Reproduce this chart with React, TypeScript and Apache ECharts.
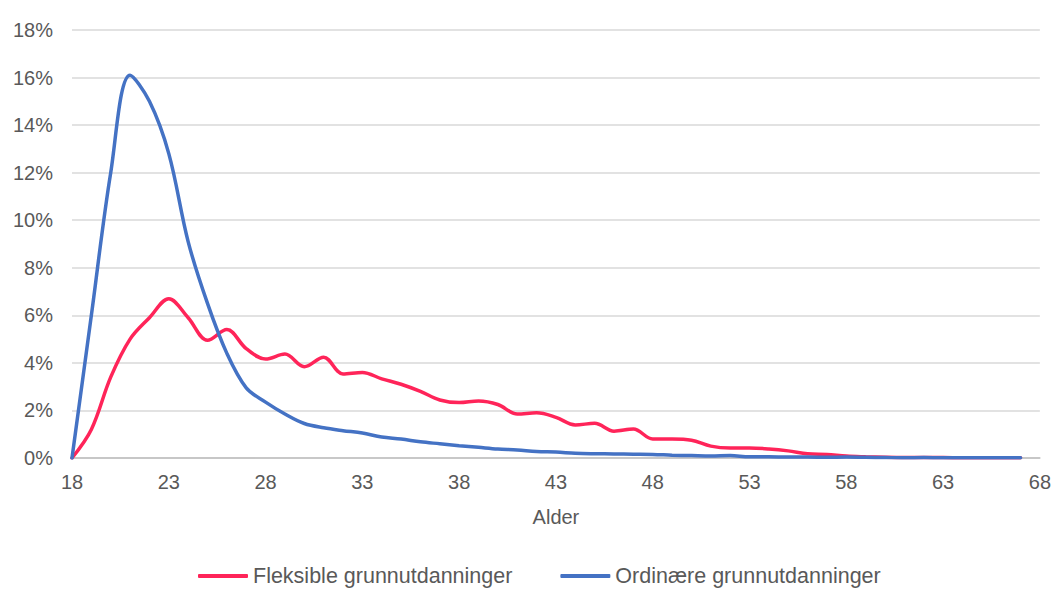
import React, { useEffect, useRef } from "react";
import * as echarts from "echarts";

const ages = [
  "18", "19", "20", "21", "22", "23", "24", "25", "26", "27",
  "28", "29", "30", "31", "32", "33", "34", "35", "36", "37",
  "38", "39", "40", "41", "42", "43", "44", "45", "46", "47",
  "48", "49", "50", "51", "52", "53", "54", "55", "56", "57",
  "58", "59", "60", "61", "62", "63", "64", "65", "66", "67", "68",
];

// percent values, ages 18..67
const fleksible = [
  0, 1.2, 3.4, 5.0, 5.9, 6.7, 5.9, 4.95, 5.4, 4.6,
  4.16, 4.37, 3.84, 4.24, 3.53, 3.6, 3.33, 3.1, 2.8, 2.44,
  2.33, 2.4, 2.25, 1.85, 1.9, 1.71, 1.39, 1.46, 1.13, 1.22,
  0.8, 0.8, 0.75, 0.5, 0.42, 0.42, 0.38, 0.3, 0.18, 0.15,
  0.08, 0.05, 0.03, 0.02, 0.02, 0.02, 0.01, 0.01, 0.01, 0.01,
];

const ordinaere = [
  0, 6.0, 12.0, 16.1, 15.0, 12.8, 9.1, 6.5, 4.4, 2.95,
  2.35, 1.85, 1.45, 1.27, 1.15, 1.05, 0.88, 0.8, 0.68, 0.6,
  0.52, 0.45, 0.38, 0.34, 0.27, 0.25, 0.2, 0.18, 0.17, 0.16,
  0.15, 0.12, 0.1, 0.08, 0.1, 0.05, 0.05, 0.04, 0.04, 0.03,
  0.04, 0.03, 0.02, 0.01, 0.02, 0.01, 0.01, 0.01, 0.01, 0.01,
];

const seriesNames = ["Fleksible grunnutdanninger", "Ordinære grunnutdanninger"];
const axisTitle = "Alder";

export default function App() {
  const ref = useRef<HTMLDivElement>(null);
  useEffect(() => {
    if (!ref.current) return;
    const chart = echarts.init(ref.current, undefined, { renderer: "svg" });
    const font = "'Liberation Sans', Arial, sans-serif";
    const textColor = "#595959";
    chart.setOption({
      animation: false,
      backgroundColor: "#ffffff",
      textStyle: { fontFamily: font },
      grid: { left: 72, right: 14, top: 30, bottom: 132, containLabel: false },
      legend: {
        data: seriesNames,
        left: 193,
        top: 560,
        itemWidth: 50,
        itemHeight: 4,
        itemGap: 48,
        icon: "roundRect",
        textStyle: { fontSize: 21.5, color: textColor, fontFamily: font },
      },
      xAxis: {
        type: "category",
        data: ages,
        boundaryGap: false,
        name: axisTitle,
        nameLocation: "middle",
        nameGap: 49,
        nameTextStyle: { fontSize: 20, color: textColor, fontFamily: font },
        axisLine: { lineStyle: { color: "#bfbfbf", width: 1.5 } },
        axisTick: { show: false },
        axisLabel: {
          interval: 4,
          fontSize: 20,
          color: textColor,
          margin: 14,
          fontFamily: font,
        },
        splitLine: { show: false },
      },
      yAxis: {
        type: "value",
        min: 0,
        max: 18,
        interval: 2,
        axisLine: { show: false },
        axisTick: { show: false },
        axisLabel: {
          formatter: "{value}%",
          fontSize: 20,
          color: textColor,
          margin: 19,
          fontFamily: font,
        },
        splitLine: { lineStyle: { color: "#d9d9d9", width: 1.5 } },
      },
      series: [
        {
          name: seriesNames[0],
          type: "line",
          data: fleksible,
          smooth: 0.35,
          showSymbol: false,
          symbol: "none",
          lineStyle: { color: "#FF2459", width: 3.5, cap: "round" },
          itemStyle: { color: "#FF2459" },
        },
        {
          name: seriesNames[1],
          type: "line",
          data: ordinaere,
          smooth: 0.35,
          showSymbol: false,
          symbol: "none",
          lineStyle: { color: "#4472C4", width: 3.5, cap: "round" },
          itemStyle: { color: "#4472C4" },
        },
      ],
    });
    return () => chart.dispose();
  }, []);
  return (
    <div
      ref={ref}
      style={{ position: "fixed", left: 0, top: 0, width: 1054, height: 590 }}
    />
  );
}
